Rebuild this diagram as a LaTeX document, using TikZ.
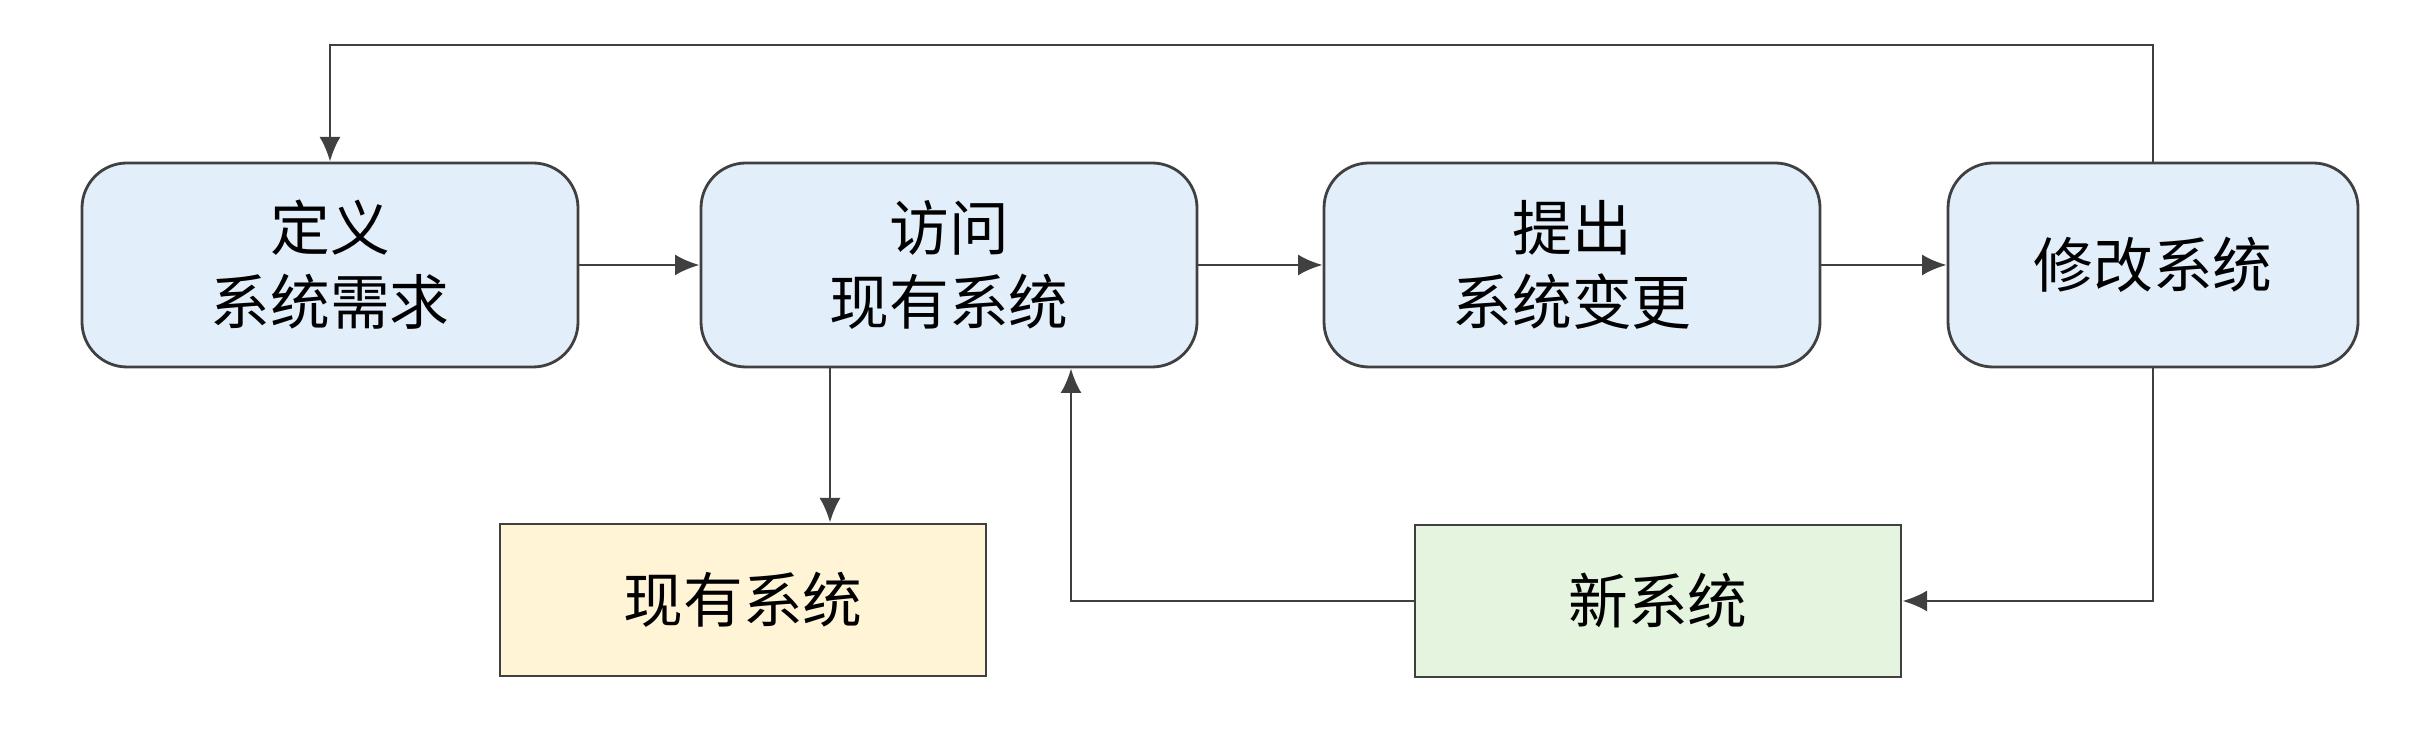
\documentclass[tikz,border=0pt]{standalone}
\usepackage{fontspec}
\setmainfont{Noto Sans CJK SC}
\usepackage{xcolor}
\usetikzlibrary{arrows.meta,positioning,calc}
\definecolor{linegray}{HTML}{404040}
\definecolor{stageblue}{HTML}{E3EEFB}
\definecolor{oldyellow}{HTML}{FFF5D6}
\definecolor{newgreen}{HTML}{E4F4DF}
\tikzset{%
	stage/.style   = {draw=linegray, fill=stageblue, rounded corners=0.45cm, line width=0.8pt, minimum width=4.96cm, minimum height=2.04cm, align=center, font=\fontsize{17}{21}\selectfont},
	product/.style = {draw=linegray, rectangle, line width=0.8pt, minimum width=4.86cm, minimum height=1.52cm, align=center, font=\fontsize{17}{21}\selectfont},
	arrow/.style   = {draw=linegray, line width=0.8pt, -{Latex[length=7pt,width=6pt]}},
}
\begin{document}
\begin{tikzpicture}
	\useasboundingbox (0,0) rectangle (24.28,7.34);
	\node[stage] (define) at (3.30,4.69) {定义\\系统需求};
	\node[stage] (access) at (9.49,4.69) {访问\\现有系统};
	\node[stage] (propose) at (15.72,4.69) {提出\\系统变更};
	\node[stage, minimum width=4.10cm] (modify) at (21.53,4.69) {修改系统};
	\node[product, fill=oldyellow] (oldsys) at (7.43,1.34) {现有系统};
	\node[product, fill=newgreen] (newsys) at (16.58,1.33) {新系统};
	\coordinate (topline) at (0,6.89);
	\draw[arrow] (define) -- (access);
	\draw[arrow] (access) -- (propose);
	\draw[arrow] (propose) -- (modify);
	\draw[arrow] (modify.north) -- (modify.north |- topline) -| (define.north);
	\draw[arrow] ([xshift=-1.19cm]access.south) -- ([xshift=-1.19cm]access.south |- oldsys.north);
	\draw[arrow] (modify.south) |- (newsys.east);
	\draw[arrow] (newsys.west) -| ([xshift=1.22cm]access.south);
	% \draw[dashed] (access.south) -- (oldsys.north);
\end{tikzpicture}
\end{document}
